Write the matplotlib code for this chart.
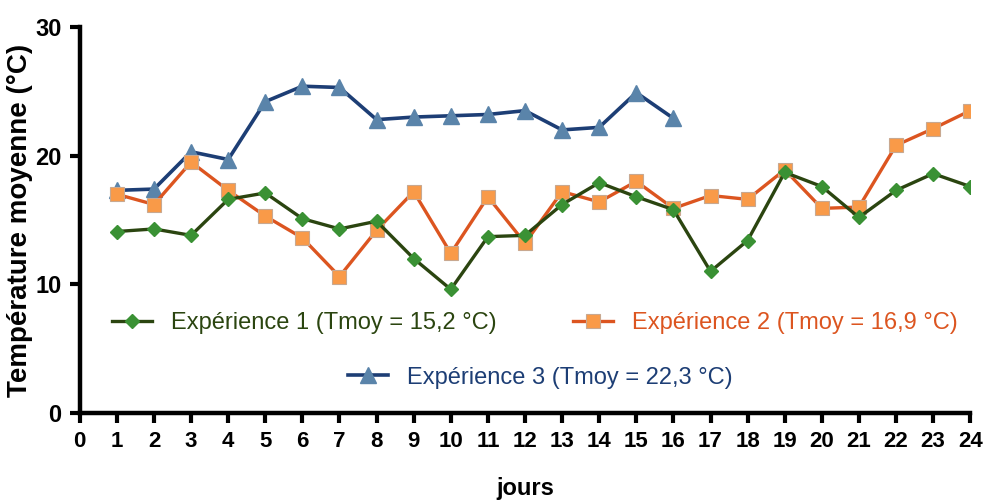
import matplotlib
matplotlib.use("Agg")
import matplotlib.pyplot as plt

days = list(range(1, 25))
exp1 = [14.1, 14.3, 13.8, 16.6, 17.1, 15.1, 14.3, 14.9, 12.0, 9.6, 13.7, 13.8,
        16.2, 17.9, 16.8, 15.8, 11.0, 13.4, 18.7, 17.6, 15.2, 17.3, 18.6, 17.6]
exp2 = [17.0, 16.2, 19.5, 17.3, 15.3, 13.6, 10.6, 14.2, 17.2, 12.4, 16.8, 13.2,
        17.2, 16.4, 18.0, 15.9, 16.9, 16.6, 18.9, 15.9, 16.0, 20.8, 22.1, 23.5]
days3 = list(range(1, 17))
exp3 = [17.3, 17.4, 20.3, 19.7, 24.2, 25.4, 25.3, 22.8, 23.0, 23.1, 23.2, 23.5,
        22.0, 22.2, 24.9, 22.9]

labels = ["Expérience 1 (Tmoy = 15,2 °C)",
          "Expérience 2 (Tmoy = 16,9 °C)",
          "Expérience 3 (Tmoy = 22,3 °C)"]
line_cols = ["#2b4510", "#dc5520", "#1d3e75"]
mark_cols = ["#3a9134", "#f99a48", "#5a84aa"]

plt.rcParams["font.family"] = ["Liberation Sans", "DejaVu Sans"]

fig = plt.figure(figsize=(9.85, 5.01), dpi=100)
ax = fig.add_axes([0.081, 0.176, 0.904, 0.770])

l1, = ax.plot(days, exp1, color=line_cols[0], lw=2.4, marker="D", ms=7.5,
              mfc=mark_cols[0], mec=mark_cols[0], label=labels[0], zorder=3)
l2, = ax.plot(days, exp2, color=line_cols[1], lw=2.4, marker="s", ms=10.5,
              mfc=mark_cols[1], mec="#c8a890", mew=0.8, label=labels[1], zorder=2)
l3, = ax.plot(days3, exp3, color=line_cols[2], lw=2.6, marker="^", ms=11,
              mfc=mark_cols[2], mec=mark_cols[2], label=labels[2], zorder=1)

ax.set_xlim(0, 24)
ax.set_ylim(0, 30)
ax.set_xticks(range(0, 25))
ax.set_yticks([0, 10, 20, 30])
for s in ["top", "right"]:
    ax.spines[s].set_visible(False)
for s in ["left", "bottom"]:
    ax.spines[s].set_linewidth(3.2)
ax.tick_params(width=3, length=7, direction="out", pad=6)
for t in ax.get_xticklabels():
    t.set_fontweight("bold")
    t.set_fontsize(16)
for t in ax.get_yticklabels():
    t.set_fontweight("bold")
    t.set_fontsize(17)

ax.set_ylabel("Température moyenne (°C)", fontsize=20, fontweight="bold",
              labelpad=2)
ax.set_xlabel("jours", fontsize=17, fontweight="bold", labelpad=18)

leg1 = ax.legend(handles=[l1, l2], loc="center", bbox_to_anchor=(0.511, 0.233),
                 ncol=2, frameon=False, columnspacing=3.2, handlelength=1.7,
                 prop={"size": 17})
for txt, c in zip(leg1.get_texts(), line_cols[:2]):
    txt.set_color(c)
ax.add_artist(leg1)
leg2 = ax.legend(handles=[l3], loc="center", bbox_to_anchor=(0.517, 0.091),
                 frameon=False, handlelength=1.7, prop={"size": 17})
leg2.get_texts()[0].set_color(line_cols[2])

fig.savefig("out.png", dpi=100)
